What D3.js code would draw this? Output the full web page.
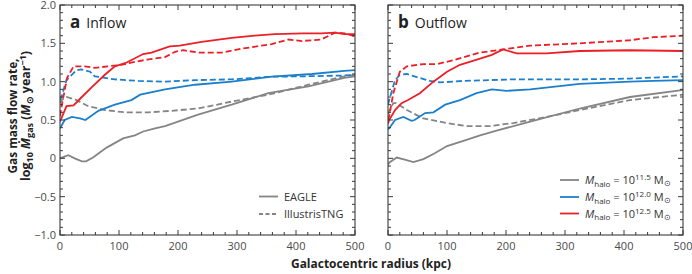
<!DOCTYPE html>
<html><head><meta charset="utf-8">
<script src="https://cdn.jsdelivr.net/npm/d3@7"></script>
<style>
body{margin:0;background:#fff;}
text{font-family:"Open Sans","Noto Sans",sans-serif;}
</style></head>
<body><svg id="c" width="692" height="274"></svg>
<script>
// ---- data (x: kpc, y: log10 Mdot) ----
const xTicks = [0,100,200,300,400,500];
const yTicks = [2.0,1.5,1.0,0.5,0,-0.5,-1.0];
const yTickLabels = ["2.0","1.5","1.0","0.5","0","\u22120.5","\u22121.0"];
const massLabels = ["11.5","12.0","12.5"];
const simLabels = ["EAGLE","IllustrisTNG"];
const panelLetters = ["a","b"];
const panelTitles = ["Inflow","Outflow"];

// Inflow, EAGLE (solid)
const inEagle115 = [[0,0.0],[14,0.04],[25,0.0],[37,-0.04],[44,-0.04],[56,0.01],[68,0.08],[79,0.14],[107,0.26],[127,0.30],[141,0.35],[161,0.39],[178,0.42],[234,0.57],[291,0.70],[353,0.85],[421,0.94],[482,1.05],[500,1.07]];
const inEagle120 = [[0,0.39],[8,0.50],[20,0.54],[34,0.52],[43,0.50],[65,0.62],[93,0.70],[121,0.76],[136,0.83],[178,0.90],[229,0.96],[291,1.00],[359,1.065],[427,1.10],[482,1.14],[500,1.15]];
const inEagle125 = [[0,0.48],[11,0.68],[23,0.69],[37,0.80],[54,0.93],[76,1.09],[93,1.20],[113,1.25],[141,1.36],[155,1.38],[186,1.46],[203,1.47],[240,1.52],[291,1.57],[330,1.60],[364,1.62],[412,1.63],[443,1.63],[466,1.64],[482,1.62],[500,1.62]];
// Inflow, IllustrisTNG (dashed)
const inTng115 = [[0,0.72],[3,0.76],[11,0.80],[25,0.77],[48,0.68],[76,0.63],[110,0.60],[150,0.60],[189,0.62],[234,0.65],[291,0.74],[353,0.83],[421,0.96],[482,1.07],[500,1.09]];
const inTng120 = [[0,0.76],[2,0.79],[11,1.02],[28,1.15],[36,1.16],[51,1.13],[59,1.07],[93,1.03],[133,1.01],[178,1.00],[229,1.02],[291,1.03],[359,1.065],[415,1.07],[482,1.08],[500,1.09]];
const inTng125 = [[0,0.55],[2,0.65],[12,1.05],[23,1.20],[42,1.20],[59,1.18],[81,1.20],[104,1.22],[127,1.26],[150,1.29],[178,1.32],[195,1.39],[209,1.41],[234,1.38],[274,1.38],[308,1.43],[359,1.49],[387,1.55],[410,1.53],[443,1.55],[466,1.64],[483,1.63],[500,1.59]];
// Outflow, EAGLE (solid)
const outEagle115 = [[0,-0.08],[3,-0.05],[15,0.01],[30,-0.02],[43,-0.05],[60,-0.01],[80,0.07],[100,0.16],[133,0.24],[156,0.30],[184,0.36],[241,0.48],[325,0.65],[410,0.80],[498,0.89],[500,0.89]];
const outEagle120 = [[0,0.38],[2,0.39],[12,0.50],[26,0.54],[40,0.49],[45,0.50],[63,0.59],[77,0.60],[97,0.70],[122,0.76],[150,0.85],[176,0.90],[201,0.88],[241,0.90],[325,0.97],[410,1.00],[450,1.01],[500,1.02]];
const outEagle125 = [[0,0.45],[2,0.50],[12,0.63],[23,0.72],[34,0.76],[54,0.85],[77,1.00],[100,1.13],[122,1.22],[156,1.30],[176,1.35],[195,1.42],[218,1.37],[269,1.37],[325,1.40],[410,1.41],[500,1.40]];
// Outflow, IllustrisTNG (dashed)
const outTng115 = [[0,0.58],[9,0.72],[14,0.72],[32,0.63],[60,0.52],[100,0.46],[133,0.42],[173,0.42],[212,0.46],[269,0.54],[325,0.63],[410,0.76],[500,0.83]];
const outTng120 = [[0,0.70],[2,0.76],[12,1.02],[20,1.09],[32,1.10],[49,1.06],[71,1.01],[88,0.99],[128,1.01],[212,1.03],[325,1.03],[410,1.04],[500,1.07]];
const outTng125 = [[0,0.50],[2,0.55],[9,0.85],[20,1.13],[32,1.20],[60,1.23],[83,1.23],[111,1.28],[156,1.38],[195,1.42],[241,1.47],[325,1.50],[410,1.54],[450,1.58],[500,1.60]];

const colors = ["#858585","#1b7fcc","#ec1f27"];
const panels = [
  {series:[inEagle115,inEagle120,inEagle125], dashed:[inTng115,inTng120,inTng125]},
  {series:[outEagle115,outEagle120,outEagle125], dashed:[outTng115,outTng120,outTng125]}
];

const svg = d3.select("#c");
const topY = 5, bottomY = 235, pw = 295;
const lefts = [60, 388];
const y = d3.scaleLinear().domain([-1,2]).range([bottomY, topY]);
const frameColor = "#3a3a3a", labelColor = "#4a4a4a";

panels.forEach((p, i) => {
  const L = lefts[i];
  const x = d3.scaleLinear().domain([0,500]).range([L, L+pw]);
  const g = svg.append("g");
  const cid = "clip"+i;
  svg.append("clipPath").attr("id",cid).append("rect")
    .attr("x",L).attr("y",topY).attr("width",pw).attr("height",bottomY-topY);

  const line = d3.line().x(d=>x(d[0])).y(d=>y(d[1]));
  const lg = g.append("g").attr("clip-path",`url(#${cid})`);
  [0,1,2].forEach(k=>{
    lg.append("path").datum(p.dashed[k]).attr("d",line).attr("fill","none")
      .attr("stroke",colors[k]).attr("stroke-width",1.8).attr("stroke-dasharray","6,3");
  });
  [0,1,2].forEach(k=>{
    lg.append("path").datum(p.series[k]).attr("d",line).attr("fill","none")
      .attr("stroke",colors[k]).attr("stroke-width",1.8);
  });

  const minorX = d3.range(0,501,20), minorY = d3.range(-10,21,1).map(v=>v/10);
  const isMajX = v => v%100===0, isMajY = v => Math.abs(v*2 - Math.round(v*2))<1e-6;
  const tg = g.append("g").attr("stroke",frameColor).attr("stroke-width",1);
  minorX.forEach(v=>{
    const len = isMajX(v)?5:3;
    tg.append("line").attr("x1",x(v)).attr("x2",x(v)).attr("y1",bottomY).attr("y2",bottomY-len);
    tg.append("line").attr("x1",x(v)).attr("x2",x(v)).attr("y1",topY).attr("y2",topY+len);
  });
  minorY.forEach(v=>{
    const len = isMajY(v)?5:3;
    tg.append("line").attr("x1",L).attr("x2",L+len).attr("y1",y(v)).attr("y2",y(v));
    tg.append("line").attr("x1",L+pw).attr("x2",L+pw-len).attr("y1",y(v)).attr("y2",y(v));
  });
  g.append("rect").attr("x",L).attr("y",topY).attr("width",pw).attr("height",bottomY-topY)
    .attr("fill","none").attr("stroke",frameColor).attr("stroke-width",1.1);

  g.selectAll(".xl").data(xTicks).enter().append("text")
    .attr("x",d=>x(d)).attr("y",250).attr("text-anchor","middle")
    .attr("font-size",11).attr("fill",labelColor).text(d=>d);
  if(i===0){
    g.selectAll(".yl").data(yTicks).enter().append("text")
      .attr("x",L-4).attr("y",d=>y(d)+4).attr("text-anchor","end")
      .attr("font-size",11).attr("fill",labelColor).text((d,j)=>yTickLabels[j]);
  }
  const t = g.append("text").attr("x",L+10).attr("y",28).attr("fill","#222");
  t.append("tspan").attr("font-weight","bold").attr("font-size",17).text(panelLetters[i]);
  t.append("tspan").attr("dx",6).attr("font-size",14).text(panelTitles[i]);
});

// legend panel a (line styles)
{
  const lg = svg.append("g");
  [[196.5,null],[214,"4,2.5"]].forEach((d,k)=>{
    lg.append("line").attr("x1",259).attr("x2",278).attr("y1",d[0]).attr("y2",d[0])
      .attr("stroke","#858585").attr("stroke-width",1.8).attr("stroke-dasharray",d[1]);
    lg.append("text").attr("x",284).attr("y",d[0]+4).attr("font-size",11).attr("fill","#333").text(simLabels[k]);
  });
}
// legend panel b (halo mass)
{
  const lg = svg.append("g");
  [180,197,213.5].forEach((yy,k)=>{
    lg.append("line").attr("x1",560).attr("x2",579).attr("y1",yy).attr("y2",yy)
      .attr("stroke",colors[k]).attr("stroke-width",1.8);
    const t = lg.append("text").attr("x",585).attr("y",yy+4).attr("font-size",11).attr("fill","#333");
    t.append("tspan").attr("font-style","italic").text("M");
    t.append("tspan").attr("font-size",8).attr("dy",2.5).text("halo");
    t.append("tspan").attr("dy",-2.5).text(" = 10");
    t.append("tspan").attr("font-size",8).attr("dy",-4).text(massLabels[k]);
    t.append("tspan").attr("dy",4).text(" M");
    t.append("tspan").attr("font-size",8).attr("dy",2).text("\u2299");
  });
}

svg.append("text").attr("x",371).attr("y",268).attr("text-anchor","middle")
  .attr("font-weight","bold").attr("font-size",12.5).attr("fill","#222")
  .attr("textLength",160).attr("lengthAdjust","spacingAndGlyphs")
  .text("Galactocentric radius (kpc)");
{
  const g = svg.append("g").attr("transform","translate(0,116) rotate(-90)");
  g.append("text").attr("x",0).attr("y",17).attr("text-anchor","middle")
    .attr("font-weight","bold").attr("font-size",12.5).attr("fill","#222")
    .attr("textLength",115).attr("lengthAdjust","spacingAndGlyphs").text("Gas mass flow rate,");
  const t = g.append("text").attr("x",0).attr("y",30).attr("text-anchor","middle")
    .attr("font-weight","bold").attr("font-size",12.5).attr("fill","#222");
  t.append("tspan").text("log");
  t.append("tspan").attr("font-size",9).attr("dy",3).text("10");
  t.append("tspan").attr("dy",-3).text(" ");
  t.append("tspan").attr("font-style","italic").text("\u1E40");
  t.append("tspan").attr("font-size",9).attr("dy",3).text("gas");
  t.append("tspan").attr("dy",-3).text(" (");
  t.append("tspan").attr("font-style","italic").text("M");
  t.append("tspan").attr("font-size",9).attr("dy",3).text("\u2299");
  t.append("tspan").attr("dy",-3).text(" year");
  t.append("tspan").attr("font-size",9).attr("dy",-4).text("\u22121");
  t.append("tspan").attr("dy",4).text(")");
}
</script></body></html>
